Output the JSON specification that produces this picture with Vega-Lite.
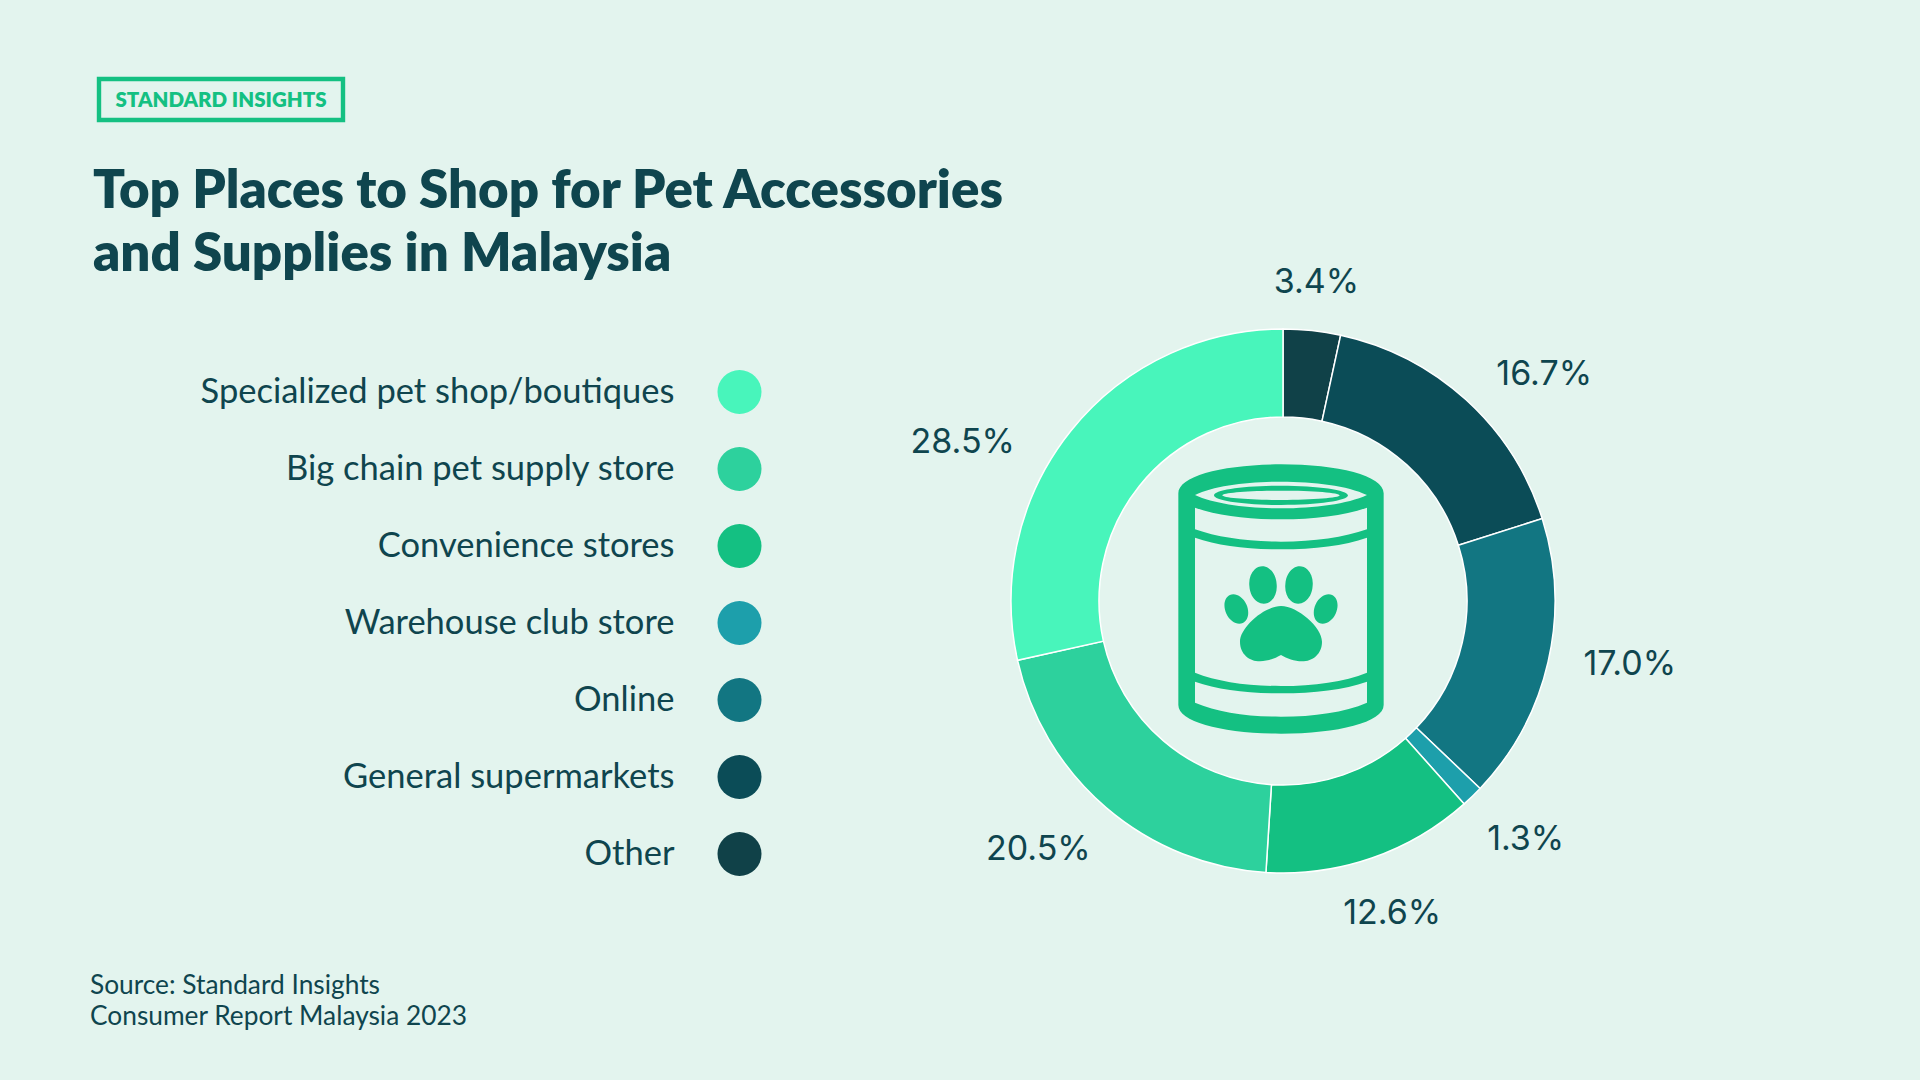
{
"$schema":"https://vega.github.io/schema/vega-lite/v6.json",
"autosize":{"type":"none"},
"padding":0,
"width":1920,
"height":1080,
"background":"#E3F4EE",
"config":{"view":{"stroke":null}},
"title":{"text":["Top Places to Shop for Pet Accessories","and Supplies in Malaysia"],"anchor":"start","frame":"group","font":"Lato","fontWeight":800,"fontSize":52.8,"lineHeight":63.5,"color":"#0F454E","dx":93,"dy":324,"baseline":"alphabetic","offset":0},
"data":{"values":[
{"category":"Other","share":3.4,"label":"3.4%","rank":1},
{"category":"General supermarkets","share":16.7,"label":"16.7%","rank":2},
{"category":"Online","share":17.0,"label":"17.0%","rank":3},
{"category":"Warehouse club store","share":1.3,"label":"1.3%","rank":4},
{"category":"Convenience stores","share":12.6,"label":"12.6%","rank":5},
{"category":"Big chain pet supply store","share":20.5,"label":"20.5%","rank":6},
{"category":"Specialized pet shop/boutiques","share":28.5,"label":"28.5%","rank":7}
]},
"transform":[
{"stack":"share","sort":[{"field":"rank","order":"ascending"}],"as":["s0","s1"]},
{"calculate":"(datum.s0+datum.s1)/2","as":"mid"}
],
"layer":[
{"mark":{"type":"arc","outerRadius":272,"innerRadius":184,"stroke":"#FFFFFF","strokeWidth":1.5},
 "encoding":{"x":{"value":1283},"y":{"value":601},
  "theta":{"field":"s0","type":"quantitative","scale":{"domain":[0,100]}},
  "theta2":{"field":"s1"},
  "color":{"field":"category","type":"nominal","legend":null,"scale":{"domain":["Specialized pet shop/boutiques","Big chain pet supply store","Convenience stores","Warehouse club store","Online","General supermarkets","Other"],"range":["#48F5BB","#2DD19D","#14C082","#1D9FAB","#127682","#0B4C57","#104148"]}}}},
{"mark":{"type":"circle","size":1936,"opacity":1},
 "encoding":{"x":{"value":739.5},
  "y":{"field":"category","type":"nominal","title":null,"scale":{"type":"point","domain":["Specialized pet shop/boutiques","Big chain pet supply store","Convenience stores","Warehouse club store","Online","General supermarkets","Other"],"range":[392,854],"padding":0},
   "axis":{"orient":"left","offset":-674,"domain":false,"ticks":false,"grid":false,"labelPadding":0,"labelAlign":"right","labelBaseline":"middle","labelFont":"Lato","labelFontSize":34.5,"labelColor":"#0F454E","labelLimit":700}},
  "color":{"field":"category","type":"nominal","legend":null}}},
{"transform":[{"filter":"datum.rank==1"}],"mark":{"type":"text","radius":345,"dx":-3.4,"dy":25,"font":"Inter","fontSize":34,"color":"#0F454E","align":"center","baseline":"middle"},
 "encoding":{"x":{"value":1283},"y":{"value":601},"theta":{"field":"mid","type":"quantitative","scale":{"domain":[0,100]}},"text":{"field":"label"}}},
{"transform":[{"filter":"datum.rank==2"}],"mark":{"type":"text","radius":345,"dx":29,"dy":29,"font":"Inter","fontSize":34,"color":"#0F454E","align":"center","baseline":"middle"},
 "encoding":{"x":{"value":1283},"y":{"value":601},"theta":{"field":"mid","type":"quantitative","scale":{"domain":[0,100]}},"text":{"field":"label"}}},
{"transform":[{"filter":"datum.rank==3"}],"mark":{"type":"text","radius":345,"dx":10.6,"dy":-13.5,"font":"Inter","fontSize":34,"color":"#0F454E","align":"center","baseline":"middle"},
 "encoding":{"x":{"value":1283},"y":{"value":601},"theta":{"field":"mid","type":"quantitative","scale":{"domain":[0,100]}},"text":{"field":"label"}}},
{"transform":[{"filter":"datum.rank==4"}],"mark":{"type":"text","radius":345,"dx":2.6,"dy":-8.7,"font":"Inter","fontSize":34,"color":"#0F454E","align":"center","baseline":"middle"},
 "encoding":{"x":{"value":1283},"y":{"value":601},"theta":{"field":"mid","type":"quantitative","scale":{"domain":[0,100]}},"text":{"field":"label"}}},
{"transform":[{"filter":"datum.rank==5"}],"mark":{"type":"text","radius":345,"dx":-3.6,"dy":-13.5,"font":"Inter","fontSize":34,"color":"#0F454E","align":"center","baseline":"middle"},
 "encoding":{"x":{"value":1283},"y":{"value":601},"theta":{"field":"mid","type":"quantitative","scale":{"domain":[0,100]}},"text":{"field":"label"}}},
{"transform":[{"filter":"datum.rank==6"}],"mark":{"type":"text","radius":345,"dx":-20.6,"dy":-13.4,"font":"Inter","fontSize":34,"color":"#0F454E","align":"center","baseline":"middle"},
 "encoding":{"x":{"value":1283},"y":{"value":601},"theta":{"field":"mid","type":"quantitative","scale":{"domain":[0,100]}},"text":{"field":"label"}}},
{"transform":[{"filter":"datum.rank==7"}],"mark":{"type":"text","radius":345,"dx":-51,"dy":58,"font":"Inter","fontSize":34,"color":"#0F454E","align":"center","baseline":"middle"},
 "encoding":{"x":{"value":1283},"y":{"value":601},"theta":{"field":"mid","type":"quantitative","scale":{"domain":[0,100]}},"text":{"field":"label"}}},
{"data":{"values":[{"icon":"pet food can"}]},
 "mark":{"type":"point","filled":true,"opacity":1,"size":0.4444,"color":"#14C082","stroke":null,"shape":"M-308,-317 C-308,-370 -170,-404 0,-404 C170,-404 308,-370 308,-317 L308,318 C308,370 170,404 0,404 C-170,404 -308,370 -308,318 Z M-258,-312 C-200,-285 -100,-272 0,-272 C100,-272 200,-285 258,-312 C200,-340 100,-352 0,-352 C-100,-352 -200,-340 -258,-312 Z M-201,-311 A201,29 0 1 1 201,-311 A201,29 0 1 1 -201,-311 Z M-176,-311 A176,14 0 1 0 176,-311 A176,14 0 1 0 -176,-311 Z M-258,-274 L-258,-209 C-190,-185 -100,-172 0,-172 C100,-172 190,-185 258,-209 L258,-274 C190,-250 100,-239 0,-239 C-100,-239 -190,-250 -258,-274 Z M-258,-184 L-258,221 C-190,248 -100,261 0,261 C100,261 190,248 258,221 L258,-184 C190,-160 100,-149 0,-149 C-100,-149 -190,-160 -258,-184 Z M-258,248 L-258,311 C-190,340 -100,353 0,353 C100,353 190,340 258,311 L258,248 C190,272 100,283 0,283 C-100,283 -190,272 -258,248 Z M-163.9,44 A33,46 -25 1 1 -104.1,16 A33,46 -25 1 1 -163.9,44 Z M104.1,16 A33,46 25 1 1 163.9,44 A33,46 25 1 1 104.1,16 Z M-94.8,-38.4 A41,54 -5 1 1 -13.2,-45.6 A41,54 -5 1 1 -94.8,-38.4 Z M13.2,-45.6 A41,54 5 1 1 94.8,-38.4 A41,54 5 1 1 13.2,-45.6 Z M0,21 C50,21 123,85 123,128 C123,165 95,187 63,187 C40,187 18,178 0,168 C-18,178 -40,187 -63,187 C-95,187 -123,165 -123,128 C-123,85 -50,21 0,21 Z"},
 "encoding":{"x":{"value":1281},"y":{"value":599}}},
{"data":{"values":[{"badge":"STANDARD INSIGHTS"}]},
 "mark":{"type":"rect","fill":null,"stroke":"#14C082","strokeWidth":4.4},
 "encoding":{"x":{"value":99},"x2":{"value":343},"y":{"value":79},"y2":{"value":120}}},
{"data":{"values":[{"badge":"STANDARD INSIGHTS"}]},
 "mark":{"type":"text","font":"Lato","fontWeight":800,"fontSize":20.5,"color":"#14C082","align":"center","baseline":"middle"},
 "encoding":{"x":{"value":221},"y":{"value":101},"text":{"field":"badge"}}},
{"data":{"values":[{"source":"Source: Standard Insights"},{"source":"Consumer Report Malaysia 2023"}]},
 "transform":[{"filter":"datum.source[0]=='S'"}],
 "mark":{"type":"text","font":"Lato","fontSize":26.3,"color":"#0F454E","align":"left","baseline":"middle"},
 "encoding":{"x":{"value":90},"y":{"value":986},"text":{"field":"source"}}},
{"data":{"values":[{"source":"Source: Standard Insights"},{"source":"Consumer Report Malaysia 2023"}]},
 "transform":[{"filter":"datum.source[0]=='C'"}],
 "mark":{"type":"text","font":"Lato","fontSize":26.3,"color":"#0F454E","align":"left","baseline":"middle"},
 "encoding":{"x":{"value":90},"y":{"value":1017},"text":{"field":"source"}}}
]
}
